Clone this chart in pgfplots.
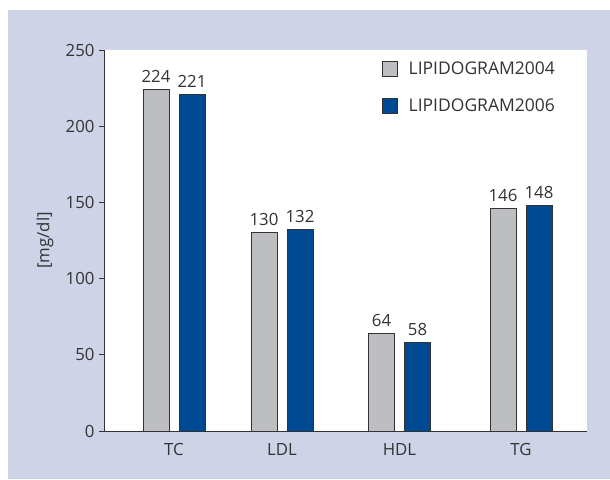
\documentclass[border=0pt]{standalone}
\usepackage{pgfplots}
\pgfplotsset{compat=1.18}
\usepackage{fontspec}
\setmainfont{Open Sans}
\definecolor{lav}{HTML}{CED3E7}
\definecolor{bargray}{HTML}{BDBEC2}
\definecolor{barblue}{HTML}{004A93}
\definecolor{txt}{HTML}{333333}
\newcommand{\chfont}{\fontsize{16.8}{19}\selectfont}
\newcommand{\legfont}{\fontsize{17.5}{20}\selectfont}
\begin{document}
\begin{tikzpicture}[x=1pt,y=1pt]
\path[use as bounding box] (0,0) rectangle (610,479);
\fill[white] (0,0) rectangle (610,479);
\fill[lav] (8,0) rectangle (610,469);
\begin{axis}[
  at={(104pt,48pt)}, anchor=south west,
  width=483pt, height=381pt, scale only axis,
  xmin=104, xmax=587, ymin=0, ymax=250,
  ybar,
  legend image code/.code={\draw[#1, draw=txt, line width=0.8pt] (0pt,-7.5pt) rectangle (15pt,7.5pt);},
  axis background/.style={fill=white},
  axis x line=bottom, axis y line=left,
  axis line style={-, draw=txt, line width=1pt},
  ytick={0,50,...,250},
  xtick={174,282,399.5,521},
  xticklabels={TC,LDL,HDL,TG},
  tick align=outside,
  major tick length=5pt,
  ytick style={draw=txt, line width=0.8pt},
  xtick style={draw=none},
  tick label style={font=\chfont, text=txt},
  /pgf/number format/assume math mode=true,
  yticklabel style={xshift=-1pt},
  xticklabel style={yshift=-4pt},
  ylabel={[mg/dl]},
  ylabel style={at={(axis description cs:-0.122,0.5)}, anchor=center, font=\chfont, text=txt},
  nodes near coords,
  every node near coord/.append style={font=\chfont, text=txt, yshift=3pt},
  legend style={at={(0.575,0.972)}, anchor=north west, draw=none, fill=none,
    font=\legfont, text=txt, row sep=21pt, inner sep=0pt,
    nodes={inner sep=1pt}},
  legend cell align=left,
  /tikz/every odd column/.append style={column sep=10pt},
]
\addplot[bar width=26pt, bar shift=0pt, fill=bargray, draw=txt, line width=0.8pt]
  coordinates {(156,224) (264,130) (381.5,64) (503,146)};
\addlegendentry{LIPIDOGRAM2004}
\addplot[bar width=26pt, bar shift=0pt, fill=barblue, draw=txt, line width=0.8pt]
  coordinates {(192,221) (300,132) (417.5,58) (539,148)};
\addlegendentry{LIPIDOGRAM2006}
\end{axis}
\end{tikzpicture}
\end{document}
